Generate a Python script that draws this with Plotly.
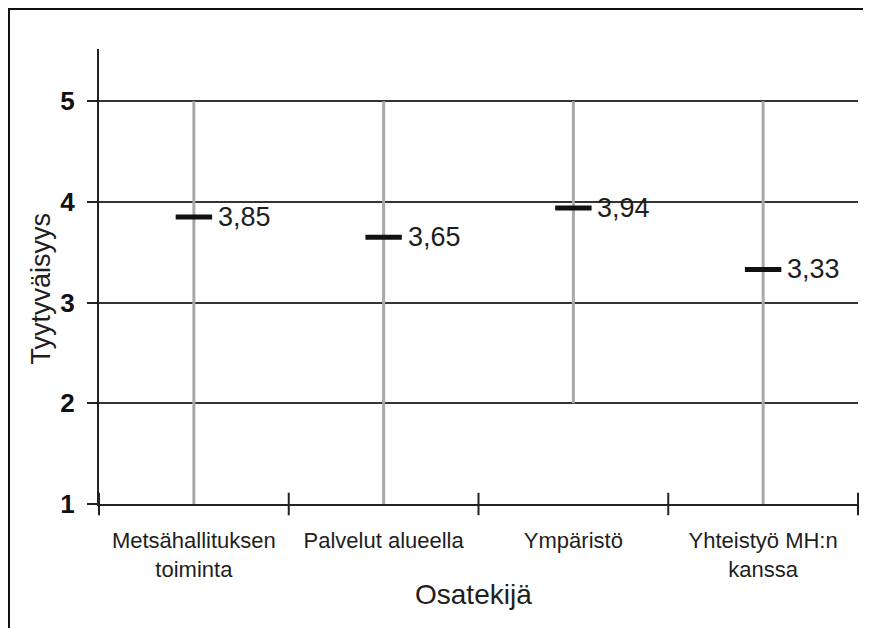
import plotly.graph_objects as go

categories = ["Metsähallituksen<br>toiminta", "Palvelut alueella", "Ympäristö", "Yhteistyö MH:n<br>kanssa"]
low_values = [1, 1, 2, 1]
high_values = [5, 5, 5, 5]
mean_values = [3.85, 3.65, 3.94, 3.33]
y_ticks = [1, 2, 3, 4, 5]

FONT = "Liberation Sans, Arial, sans-serif"
TXT = "#1e1e1e"

xs = list(range(len(categories)))

fig = go.Figure()

# vertical min-max lines
lx, ly = [], []
for i, lo, hi in zip(xs, low_values, high_values):
    lx += [i, i, None]
    ly += [lo, hi, None]
fig.add_trace(go.Scatter(x=lx, y=ly, mode="lines",
                         line=dict(color="#a8a8a8", width=3),
                         hoverinfo="skip", showlegend=False))

# mean dashes
fig.add_trace(go.Scatter(x=xs, y=mean_values, mode="markers",
                         marker=dict(symbol="line-ew", size=26,
                                     line=dict(color="#111111", width=5)),
                         showlegend=False))

# cross ticks at category boundaries on the x axis
bounds = [i - 0.5 for i in range(len(categories) + 1)]
fig.add_trace(go.Scatter(x=bounds, y=[y_ticks[0]] * len(bounds), mode="markers",
                         marker=dict(symbol="line-ns", size=16,
                                     line=dict(color="#222222", width=2)),
                         cliponaxis=False, hoverinfo="skip", showlegend=False))

annotations = []
for i, m in zip(xs, mean_values):
    annotations.append(dict(x=i, y=m, xref="x", yref="y",
                            text=f"{m:.2f}".replace(".", ","),
                            showarrow=False, xanchor="left", yanchor="middle",
                            xshift=22, font=dict(family=FONT, size=27, color=TXT)))

annotations.append(dict(x=0.493, y=-0.198, xref="paper", yref="paper",
                        text="Osatekijä", showarrow=False,
                        xanchor="center", yanchor="middle",
                        font=dict(family=FONT, size=28, color=TXT)))
annotations.append(dict(x=-0.0777, y=0.4736, xref="paper", yref="paper",
                        text="Tyytyväisyys", showarrow=False, textangle=-90,
                        xanchor="center", yanchor="middle",
                        font=dict(family=FONT, size=27, color=TXT)))

fig.update_layout(
    width=871, height=628,
    margin=dict(l=91, r=21, t=41, b=132),
    paper_bgcolor="white", plot_bgcolor="white",
    annotations=annotations,
    shapes=[dict(type="path", xref="paper", yref="paper",
                 path="M -0.1186,-0.35 L -0.1186,1.0879 L 1.05,1.0879",
                 line=dict(color="#111111", width=2))],
    xaxis=dict(range=[-0.5, len(categories) - 0.5], tickmode="array",
               tickvals=xs, ticktext=categories, ticks="",
               showgrid=False, zeroline=False,
               showline=True, linecolor="#222222", linewidth=2,
               ticklabelstandoff=16,
               tickfont=dict(family=FONT, size=22, color=TXT)),
    yaxis=dict(range=[1, 5.52], tickmode="array", tickvals=y_ticks,
               ticks="outside", ticklen=10, tickwidth=2, tickcolor="#222222",
               showgrid=True, gridcolor="#333333", gridwidth=2,
               zeroline=False, showline=True, linecolor="#222222", linewidth=2,
               ticklabelstandoff=7,
               tickfont=dict(family=FONT, size=26, color="#111111", weight="bold")),
)

fig.write_html("out.html")
